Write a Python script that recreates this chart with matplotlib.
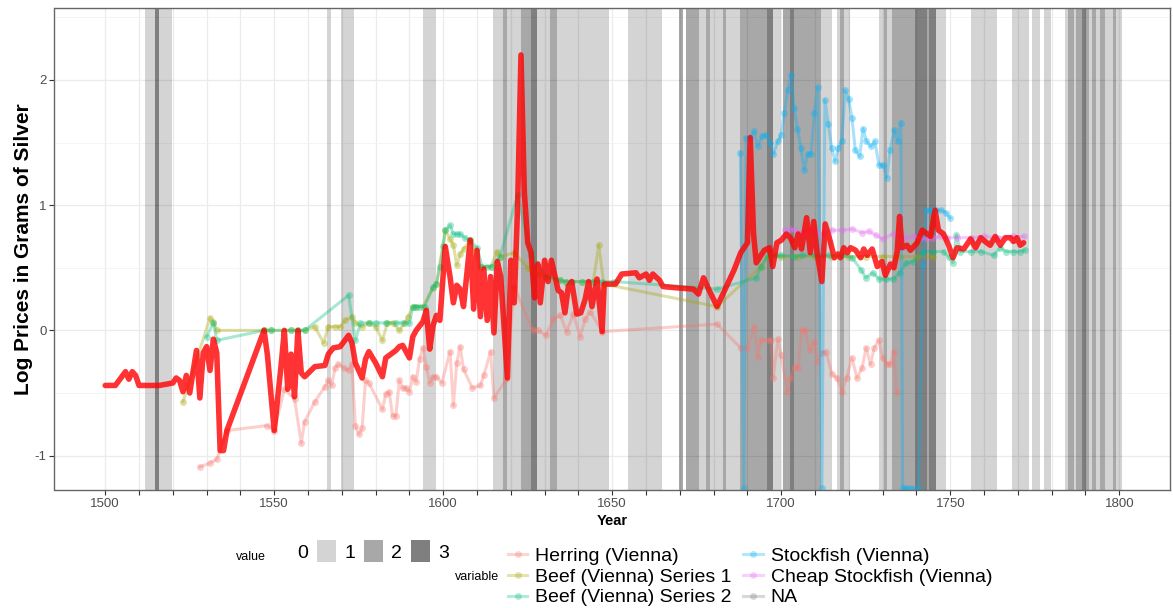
import matplotlib
matplotlib.use("Agg")
import matplotlib.pyplot as plt
from matplotlib.lines import Line2D
from matplotlib.patches import Patch
from matplotlib.ticker import FixedLocator, MultipleLocator, FuncFormatter

plt.rcParams['font.family'] = ['Liberation Sans', 'DejaVu Sans']
plt.rcParams['axes.unicode_minus'] = False

# shaded periods: start year, end year, value (1..3)
band_start = [1511.7, 1514.6, 1515.8, 1565.6, 1569.9, 1593.9,
              1614.8, 1617.7, 1619.0, 1623.0, 1625.9, 1627.6, 1631.6, 1633.7,
              1654.8, 1669.7, 1671.9, 1675.8, 1677.8, 1678.8, 1682.7, 1683.6,
              1687.9, 1695.8, 1697.6, 1700.6, 1702.7, 1703.8, 1711.8, 1716.5,
              1717.3, 1718.5, 1728.8, 1730.3, 1731.3, 1732.8, 1739.7, 1743.2,
              1743.8, 1745.8, 1756.0, 1768.3, 1774.2, 1777.7, 1783.8, 1784.8,
              1786.6, 1787.3, 1789.0, 1790.1, 1791.0, 1792.0, 1793.0, 1794.2,
              1795.9, 1798.0, 1799.0]
band_end = [1514.6, 1515.8, 1519.8, 1566.7, 1573.6, 1597.8,
            1617.7, 1619.0, 1623.0, 1625.9, 1627.6, 1631.6, 1633.7, 1648.9,
            1664.7, 1670.8, 1675.8, 1677.8, 1678.8, 1682.7, 1683.6, 1687.9,
            1695.8, 1697.6, 1700.0, 1702.7, 1703.8, 1711.8, 1715.0, 1717.3,
            1718.5, 1720.4, 1730.3, 1731.3, 1732.8, 1739.7, 1743.2, 1743.8,
            1745.8, 1748.8, 1763.7, 1773.2, 1776.4, 1779.9, 1784.8, 1786.6,
            1787.3, 1789.0, 1790.1, 1791.0, 1792.0, 1793.0, 1794.2, 1795.9,
            1798.0, 1799.0, 1800.9]
band_value = [1, 3, 1, 1, 1, 1,
              1, 2, 1, 2, 3, 1, 2, 1,
              1, 2, 2, 1, 2, 1, 2, 1,
              2, 3, 1, 2, 3, 2, 1, 1,
              2, 1, 1, 2, 1, 2, 3, 2,
              3, 1, 1, 1, 1, 1, 1, 2,
              1, 2, 3, 2, 1, 2, 1, 2,
              1, 2, 1]

index_year = [1500, 1503, 1506, 1507, 1508, 1509, 1510, 1512, 1516, 1520, 1521, 1522, 1523,
              1524, 1525, 1527, 1528, 1529, 1530, 1531, 1532, 1533, 1534, 1535, 1536, 1547,
              1548, 1550, 1552, 1553, 1554, 1555, 1556, 1557, 1558, 1559, 1562, 1565, 1566,
              1567.5, 1569.5, 1572, 1573, 1574, 1576, 1577, 1578, 1580, 1582, 1583, 1586,
              1587, 1588, 1590, 1591, 1592, 1594, 1595, 1596, 1597, 1598, 1599, 1600.6,
              1602, 1603, 1604, 1605, 1606, 1608, 1609, 1610, 1611, 1612, 1613, 1614, 1615,
              1616, 1617, 1619, 1620, 1621, 1622, 1623, 1624, 1625, 1626, 1627, 1628,
              1628.7, 1630, 1631, 1632, 1634, 1635, 1636, 1637, 1638, 1639.5, 1640.7, 1642,
              1643, 1644, 1645.5, 1647, 1647.6, 1649, 1651, 1652.8, 1657, 1658, 1660, 1661,
              1662, 1664, 1665, 1669, 1674, 1675.5, 1677, 1678.5, 1681, 1686, 1688, 1690,
              1690.8, 1691.8, 1692.6, 1694, 1695, 1696.5, 1697.5, 1698.7, 1700, 1701.5,
              1702.7, 1704, 1705, 1706, 1707.5, 1708.6, 1709.6, 1710.6, 1712, 1713, 1714.5,
              1715.7, 1716.7, 1717.5, 1718.5, 1719.5, 1720.5, 1722, 1723.5, 1724.4, 1725.4,
              1726.9, 1728.4, 1729.8, 1730.8, 1732.3, 1733.3, 1734.3, 1735, 1735.7, 1737.2,
              1738.2, 1739.2, 1740.2, 1741.7, 1743.2, 1744.2, 1745.5, 1746.5, 1748, 1749.5,
              1750.8, 1752, 1754, 1756, 1757.5, 1759, 1760.3, 1761.8, 1763.3, 1764.8, 1766.3,
              1767.8, 1768.7, 1769.7, 1770.7, 1771.7]
index_val = [-0.44, -0.44, -0.33, -0.39, -0.33, -0.36, -0.44, -0.44, -0.44, -0.42, -0.38, -0.40, -0.49,
             -0.36, -0.50, -0.16, -0.54, -0.18, -0.13, -0.32, -0.07, -0.18, -0.96, -0.96, -0.80, 0.0,
             -0.20, -0.80, -0.29, 0.0, -0.47, -0.19, -0.53, 0.0, -0.34, -0.37, -0.29, -0.28, -0.19,
             -0.14, -0.13, -0.04, -0.10, -0.26, -0.38, -0.23, -0.17, -0.26, -0.37, -0.22, -0.16,
             -0.13, -0.12, -0.22, -0.05, 0.0, 0.07, 0.16, -0.15, 0.04, 0.12, 0.08, 0.67,
             0.43, 0.22, 0.36, 0.33, 0.19, 0.72, 0.17, 0.64, 0.11, 0.49, 0.08, 0.43, -0.02,
             0.55, 0.43, -0.38, 0.56, 0.22, 0.99, 2.20, 1.10, 0.70, 0.62, 0.26, 0.53,
             0.22, 0.56, 0.39, 0.56, 0.32, 0.30, 0.14, 0.35, 0.39, 0.13, 0.14, 0.25,
             0.39, 0.19, 0.41, -0.01, 0.37, 0.37, 0.37, 0.45, 0.46, 0.42, 0.45, 0.40,
             0.45, 0.40, 0.35, 0.34, 0.33, 0.29, 0.42, 0.33, 0.19, 0.48, 0.62, 0.70,
             1.54, 0.77, 0.54, 0.60, 0.64, 0.66, 0.51, 0.70, 0.72, 0.77,
             0.74, 0.66, 0.77, 0.65, 0.90, 0.62, 0.87, 0.62, 0.39, 0.85, 0.71,
             0.58, 0.61, 0.58, 0.66, 0.62, 0.66, 0.64, 0.58, 0.65, 0.60,
             0.65, 0.51, 0.55, 0.44, 0.53, 0.50, 0.63, 0.91, 0.66, 0.68,
             0.64, 0.67, 0.70, 0.80, 0.77, 0.75, 0.96, 0.80, 0.77, 0.68,
             0.58, 0.66, 0.65, 0.73, 0.66, 0.74, 0.71, 0.68, 0.75, 0.68, 0.74,
             0.74, 0.71, 0.74, 0.68, 0.70]

herring_year = [1528, 1531, 1533, 1536, 1548, 1550, 1553, 1556, 1558, 1559, 1562, 1565, 1566,
                1567, 1568, 1569, 1570.5, 1572, 1573, 1574, 1575, 1576, 1577, 1578, 1582, 1583,
                1584, 1585, 1586, 1587, 1588, 1589, 1590, 1591, 1592, 1593, 1594, 1595, 1596,
                1597, 1598, 1599.6, 1602, 1603, 1604, 1605, 1606, 1608.6, 1611, 1612, 1614,
                1615, 1618.7, 1621, 1626.5, 1628, 1630.4, 1632.6, 1634.6, 1636.5, 1638.5,
                1640.5, 1642, 1643.5, 1647, 1681, 1688, 1690, 1692, 1693, 1694, 1696, 1697,
                1697.6, 1699, 1700, 1701.8, 1702.7, 1704, 1705, 1706, 1707, 1708.5, 1709.8,
                1710.7, 1712, 1713.2, 1715, 1716.5, 1718, 1719.3, 1720.9, 1722.4, 1723.9,
                1725.1, 1726.4, 1727.5, 1728.8, 1730, 1731.3, 1732.3, 1733.3, 1734.1]
herring_val = [-1.09, -1.06, -1.03, -0.80, -0.76, -0.80, -0.47, -0.55, -0.90, -0.73, -0.57, -0.45, -0.40,
               -0.44, -0.30, -0.27, -0.30, -0.32, -0.27, -0.76, -0.83, -0.78, -0.40, -0.42, -0.63, -0.51,
               -0.49, -0.68, -0.68, -0.40, -0.46, -0.46, -0.49, -0.37, -0.41, -0.23, -0.14, -0.29, -0.42,
               -0.37, -0.37, -0.42, -0.17, -0.60, -0.26, -0.13, -0.31, -0.46, -0.44, -0.36, -0.17,
               -0.54, -0.39, 0.35, 0.0, 0.0, -0.04, 0.09, 0.12, -0.01, 0.13,
               -0.05, 0.09, 0.15, -0.01, 0.05, -0.14, -0.14, 0.03, -0.21, -0.08, -0.08, -0.08,
               -0.38, -0.07, -0.20, -0.49, -0.38, -0.29, -0.30, 0.0, 0.0, -0.16, -0.09,
               -0.25, -0.18, -0.17, -0.35, -0.38, -0.49, -0.38, -0.22, -0.38, -0.30,
               -0.14, -0.27, -0.14, -0.08, -0.22, -0.27, -0.27, -0.17, -0.49]

beef1_year = [1523, 1531, 1532, 1533, 1547, 1549, 1555, 1559, 1562, 1564.6, 1566, 1568, 1569.5,
              1571, 1573, 1574, 1576, 1578, 1580, 1582, 1583.5, 1585, 1587, 1588.6, 1589.6, 1591,
              1592, 1594, 1597, 1598, 1600.6, 1602, 1603, 1604, 1605, 1606, 1608, 1611, 1614,
              1616, 1617, 1621, 1625, 1628, 1630.4, 1634.4, 1636.3, 1641, 1644.4, 1646, 1647.5,
              1681, 1694, 1696, 1700, 1705, 1710, 1715, 1720, 1725, 1730, 1735, 1740, 1745]
beef1_val = [-0.57, 0.10, 0.07, 0.0, 0.0, 0.0, 0.0, 0.0, 0.03, -0.10, 0.03, 0.03, 0.03,
             0.08, 0.11, 0.06, 0.03, 0.06, 0.03, -0.08, 0.06, 0.06, 0.0, 0.06, 0.11, 0.19,
             0.19, 0.19, 0.34, 0.37, 0.80, 0.73, 0.68, 0.52, 0.61, 0.65, 0.72, 0.51, 0.51,
             0.63, 0.59, 0.62, 0.50, 0.45, 0.43, 0.40, 0.39, 0.39, 0.39, 0.68, 0.37,
             0.19, 0.51, 0.59, 0.59, 0.59, 0.59, 0.59, 0.59, 0.59, 0.59, 0.59, 0.59, 0.59]

beef2_year = [1530, 1532, 1533, 1547, 1549, 1555, 1557, 1559, 1572, 1574, 1575.5, 1578,
              1580, 1583, 1586, 1588, 1590, 1591, 1592, 1593, 1594.5, 1597, 1598, 1599, 1600,
              1600.6, 1602, 1603, 1604, 1605, 1606.4, 1608, 1610, 1611.5, 1613, 1614.3, 1616.8,
              1622, 1626, 1630.4, 1634.4, 1636.3, 1638, 1641, 1644.4, 1647, 1650.4, 1681,
              1692.6, 1694, 1696, 1698, 1700, 1703.7, 1706, 1710, 1714, 1718, 1721, 1723.7,
              1725, 1727, 1729, 1731, 1733.2, 1735, 1737, 1739, 1742, 1745, 1748, 1749.5,
              1750.8, 1751.8, 1753, 1756, 1759, 1762.8, 1764.8, 1766.5, 1768.7, 1770.5, 1772]
beef2_val = [-0.05, 0.06, -0.08, 0.0, 0.0, 0.0, 0.0, 0.0, 0.28, -0.08, 0.06, 0.06,
             0.06, 0.06, 0.06, 0.06, 0.06, 0.19, 0.19, 0.19, 0.19, 0.35, 0.37, 0.51, 0.67,
             0.80, 0.84, 0.77, 0.77, 0.77, 0.74, 0.72, 0.66, 0.51, 0.51, 0.51, 0.59,
             1.08, 0.60, 0.43, 0.40, 0.39, 0.39, 0.39, 0.39, 0.39, 0.39, 0.33,
             0.42, 0.51, 0.59, 0.60, 0.60, 0.59, 0.60, 0.60, 0.60, 0.60, 0.58, 0.48,
             0.42, 0.46, 0.41, 0.41, 0.41, 0.46, 0.54, 0.55, 0.63, 0.63, 0.63, 0.59,
             0.54, 0.76, 0.63, 0.63, 0.63, 0.60, 0.66, 0.63, 0.63, 0.63, 0.64]

stock_year = [1687.9, 1688.9, 1689.6, 1690.8, 1692, 1693, 1694.3, 1695.6, 1696.7, 1697.7, 1699,
              1700, 1700.9, 1701.9, 1702.9, 1703.8, 1704.8, 1705.8, 1706.8, 1707.8, 1708.8,
              1709.8, 1710.8, 1712, 1712.9, 1713.9, 1714.9, 1715.9, 1716.9, 1717.9, 1718.9,
              1719.9, 1720.9, 1721.9, 1723.2, 1724.2, 1725.2, 1726.5, 1727.7, 1728.9, 1730.2,
              1731.2, 1732.2, 1733.4, 1734.4, 1735.4, 1735.9, 1737, 1738.5, 1740.6, 1741.9,
              1742.9, 1744, 1745, 1745.9, 1747.4, 1748.7, 1749.9]
stock_val = [1.42, -1.26, 1.54, 1.54, 1.59, 1.47, 1.55, 1.56, 1.50, 1.41, 1.51,
             1.56, 1.74, 1.92, 2.04, 1.78, 1.61, 1.46, 1.28, 1.41, 1.41,
             1.74, 1.94, -1.26, 1.84, 1.65, 1.46, 1.35, 1.46, 1.51, 1.92,
             1.85, 1.70, 1.44, 1.39, 1.61, 1.51, 1.47, 1.51, 1.32, 1.32,
             1.22, 1.44, 1.60, 1.51, 1.66, -1.26, -1.26, -1.26, -1.26, 0.52,
             0.96, 0.96, 0.96, 0.96, 0.96, 0.94, 0.90]

cheap_year = [1701, 1702.7, 1704, 1706, 1708, 1710, 1712, 1715, 1718, 1721, 1724, 1726, 1728,
              1730, 1733, 1737, 1739, 1741, 1743, 1745, 1747, 1749, 1752, 1756, 1760, 1764,
              1768.7, 1771.7]
cheap_val = [0.80, 0.81, 0.80, 0.78, 0.80, 0.79, 0.77, 0.80, 0.80, 0.81, 0.78, 0.79, 0.76,
             0.73, 0.77, 0.74, 0.75, 0.74, 0.73, 0.74, 0.75, 0.74, 0.74, 0.74, 0.75, 0.74,
             0.75, 0.75]

series_names = ['Herring (Vienna)', 'Beef (Vienna) Series 1', 'Beef (Vienna) Series 2',
                'Stockfish (Vienna)', 'Cheap Stockfish (Vienna)', 'NA']
series_colors = ['#F8766D', '#A3A500', '#00BF7D', '#00B0F6', '#E76BF3', '#7F7F7F']
band_alpha = {1: 0.17, 2: 0.34, 3: 0.5}
year_ticks = list(range(1500, 1801, 10))

fig = plt.figure(figsize=(11.73, 6.08), dpi=100)
ax = fig.add_axes([54.5 / 1173, 1 - 490 / 608, (1170 - 54.5) / 1173, (490 - 8) / 608])

for s, e, v in zip(band_start, band_end, band_value):
    ax.axvspan(s, e, color='black', alpha=band_alpha[v], lw=0, zorder=1)

series = [(herring_year, herring_val), (beef1_year, beef1_val), (beef2_year, beef2_val),
          (stock_year, stock_val), (cheap_year, cheap_val)]
for (xs, ys), c in zip(series, series_colors):
    ax.plot(xs, ys, color=c, lw=2.2, alpha=0.35, marker='o', ms=5, mew=0,
            solid_joinstyle='round', zorder=2)

ax.plot(index_year, index_val, color='#ff0000', lw=4.0, alpha=0.8,
        solid_joinstyle='round', solid_capstyle='round', zorder=3)

ax.set_xlim(1485, 1815)
ax.set_ylim(-1.275, 2.575)
ax.xaxis.set_major_locator(FixedLocator(year_ticks))
ax.xaxis.set_major_formatter(FuncFormatter(lambda v, p: f'{int(round(v))}' if round(v) % 50 == 0 else ''))
ax.yaxis.set_major_locator(MultipleLocator(1))
ax.yaxis.set_minor_locator(MultipleLocator(0.5))
ax.set_axisbelow(True)
ax.grid(which='major', color='#ebebeb', lw=0.9)
ax.grid(which='minor', axis='y', color='#f2f2f2', lw=0.6)
ax.tick_params(axis='both', which='major', length=3.5, color='#333333', labelcolor='#4d4d4d',
               labelsize=9.5, width=0.8, pad=2)
ax.tick_params(axis='y', which='minor', length=0)
for sp in ax.spines.values():
    sp.set_color('#666666')
    sp.set_linewidth(1.0)

ax.set_xlabel('Year', fontsize=10.5, fontweight='bold', labelpad=3)
ax.set_ylabel('Log Prices in Grams of Silver', fontsize=15, fontweight='bold', labelpad=1.5)

# legend: value
val_handles = [Patch(facecolor='none', edgecolor='none')] + \
    [Patch(facecolor='black', alpha=band_alpha[v], edgecolor='none') for v in (1, 2, 3)]
fig.text(236 / 1173, 1 - 557 / 608, 'value', fontsize=9, va='center', ha='left')
fig.legend(val_handles, ['0', '1', '2', '3'], ncol=4, loc='center left',
           bbox_to_anchor=(270 / 1173, 1 - 551 / 608), frameon=False, fontsize=14,
           handlelength=1.0, handleheight=1.3, handletextpad=0.4, columnspacing=0.45,
           borderpad=0, borderaxespad=0)

# legend: variable
var_handles = [Line2D([], [], color=c, lw=2.2, alpha=0.3, marker='o', ms=5, mew=0)
               for c in series_colors]
fig.text(455 / 1173, 1 - 577 / 608, 'variable', fontsize=9, va='center', ha='left')
fig.legend(var_handles, series_names, ncol=2, loc='center left',
           bbox_to_anchor=(508 / 1173, 1 - 577 / 608), frameon=False, fontsize=14,
           handlelength=1.0, handletextpad=0.4, columnspacing=0.6, labelspacing=0.15,
           borderpad=0, borderaxespad=0)

fig.savefig('out.png', dpi=100)
